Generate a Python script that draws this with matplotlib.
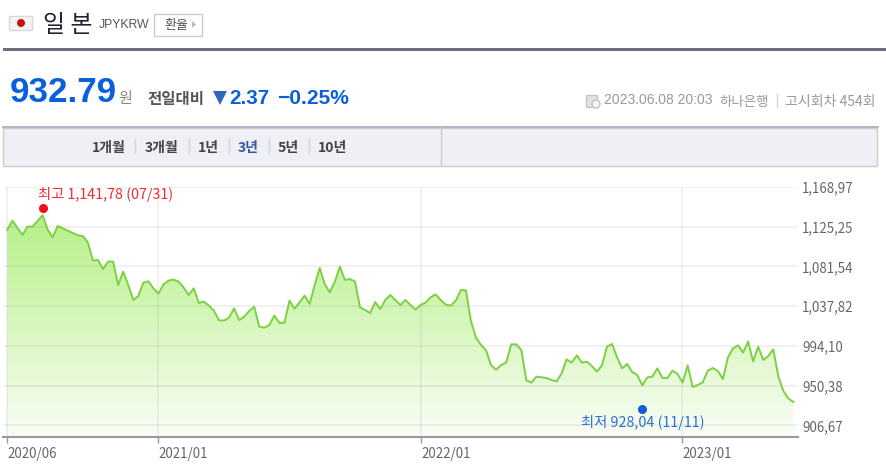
import numpy as np
import matplotlib.pyplot as plt
from matplotlib.colors import LinearSegmentedColormap
from matplotlib.patches import Rectangle, Circle, Polygon

plt.rcParams['font.family'] = ['Noto Sans CJK KR', 'DejaVu Sans']

# weekly JPYKRW rate
rate = [
    1121.7, 1132.0, 1124.3, 1116.2, 1125.4, 1125.4, 1131.6, 1137.8, 1122.4, 1113.6,
    1126.1, 1123.5, 1121.0, 1118.4, 1115.8, 1115.1, 1107.8, 1088.0, 1088.7, 1078.8,
    1086.9, 1086.9, 1061.2, 1075.9, 1061.2, 1044.7, 1049.1, 1063.8, 1065.2, 1057.5,
    1051.7, 1061.9, 1066.0, 1067.1, 1064.9, 1058.3, 1050.2, 1057.5, 1041.4, 1042.9,
    1038.5, 1033.0, 1022.4, 1022.0, 1025.3, 1035.5, 1022.7, 1026.4, 1032.6, 1037.4,
    1015.4, 1014.3, 1017.2, 1027.5, 1019.4, 1019.8, 1044.0, 1035.2, 1042.1, 1049.5,
    1040.3, 1061.2, 1079.9, 1061.9, 1053.1, 1064.9, 1081.4, 1066.7, 1067.8, 1064.9,
    1036.6, 1033.7, 1030.4, 1042.5, 1034.8, 1044.7, 1050.2, 1044.7, 1039.2, 1044.7,
    1039.2, 1034.1, 1039.2, 1041.8, 1047.6, 1050.9, 1044.7, 1039.6, 1038.5, 1044.0,
    1055.7, 1055.3, 1021.6, 1003.3, 995.2, 989.3, 972.8, 968.1, 973.2, 975.8,
    995.9, 995.9, 989.7, 956.3, 953.8, 960.4, 959.6, 958.9, 956.7, 955.2,
    964.0, 979.4, 975.8, 983.8, 975.8, 976.9, 972.1, 965.9, 972.8, 993.4,
    996.3, 981.6, 969.5, 974.3, 965.5, 962.2, 950.8, 959.6, 960.4, 969.5,
    958.9, 958.9, 967.0, 963.3, 953.8, 972.8, 949.0, 951.2, 954.1, 967.0,
    969.9, 966.6, 957.8, 981.6, 991.5, 994.8, 986.8, 998.9, 977.2, 993.4,
    978.7, 983.1, 990.4, 960.4, 944.6, 936.2, 932.5,
]
weeks = np.arange(len(rate))

y_ticks = [906.67, 950.38, 994.10, 1037.82, 1081.54, 1125.25, 1168.97]
y_labels = ['906,67', '950,38', '994,10', '1,037,82', '1,081,54', '1,125,25', '1,168,97']
x_ticks = [0, 30, 82.1, 133.9]
x_labels = ['2020/06', '2021/01', '2022/01', '2023/01']

high_week, high_rate = 7, 1141.78
low_week, low_rate = 126, 928.04

tabs = ['1개월', '3개월', '1년', '3년', '5년', '10년']
tab_x = [92, 145, 198, 238, 278, 318]
tab_seps = [135, 189, 229, 269, 309]

W, H = 886, 472
fig = plt.figure(figsize=(W / 100, H / 100), dpi=100)

# page furniture, drawn in pixel coordinates
page = fig.add_axes([0, 0, 1, 1])
page.set_xlim(0, W)
page.set_ylim(H, 0)
page.axis('off')


def px(size):
    return size * 0.72


# header
page.add_patch(Rectangle((9.5, 15.5), 23, 14, fc='#f4f4f4', ec='#d8d8d8', lw=1))
page.add_patch(Circle((21, 23), 4, fc='#c8100c', ec='none'))
page.text(43, 25, '일 본', fontsize=px(24), color='#222233', va='center', ha='left')
page.text(99, 25, 'JPYKRW', fontsize=px(12.3), color='#555555', va='center', ha='left',
          family='Liberation Sans')
page.add_patch(Rectangle((154.5, 13.5), 48, 22, fc='white', ec='#cccccc', lw=1))
page.text(164, 26, '환율', fontsize=px(13), color='#555555', va='center', ha='left')
page.add_patch(Polygon([(192, 21), (196, 24.5), (192, 28)], fc='#bbbbbb', ec='none'))
page.add_patch(Rectangle((3, 48), W - 3, 3, fc='#6b707c', ec='none'))

# price line
blue = '#0a5fdc'
page.text(10, 93, '932.79', fontsize=px(35), color=blue, weight='bold', va='center', ha='left',
          family='Liberation Sans')
page.text(118, 99, '원', fontsize=px(15), color='#888888', va='center', ha='left')
page.text(147, 99, '전일대비', fontsize=px(15.5), color='#555555', weight='bold', va='center', ha='left')
page.add_patch(Polygon([(213, 91), (227, 91), (220, 105)], fc='#2f68b8', ec='none'))
page.text(229, 98, '2.37', fontsize=px(20.5), color=blue, weight='bold', va='center', ha='left',
          family='Liberation Sans')
page.text(277, 98, '−0.25%', fontsize=px(21), color=blue, weight='bold', va='center', ha='left',
          family='Liberation Sans')

# update info on the right
page.add_patch(Rectangle((586.5, 94.5), 11, 12, fc='#e4e4e4', ec='#c4c4c4', lw=1))
page.add_patch(Circle((596, 104), 4, fc='#f4f4f4', ec='#c4c4c4', lw=1))
page.text(604, 100, '2023.06.08 20:03', fontsize=px(13.9), color='#999999', va='center', ha='left',
          family='Liberation Sans')
page.text(719, 102, '하나은행', fontsize=px(13.4), color='#999999', va='center', ha='left', weight='light')
page.plot([777, 777], [94, 107], color='#d5d5d5', lw=1)
page.text(785, 102, '고시회차 454회', fontsize=px(14), color='#999999', va='center', ha='left', weight='light')

# period tabs
page.add_patch(Rectangle((3.5, 127.5), 874, 38, fc='#eff0f5', ec='#cccccc', lw=1))
page.plot([3, 878], [127, 127], color='#a3a7bb', lw=1.2)
page.plot([441.5, 441.5], [127, 165], color='#cccccc', lw=1)
for label, x in zip(tabs, tab_x):
    color = '#3b55a5' if label == '3년' else '#444444'
    page.text(x, 148, label, fontsize=px(14), color=color, weight='bold', va='center', ha='left')
for x in tab_seps:
    page.plot([x + 0.5, x + 0.5], [139, 153], color='#d5d5d8', lw=1)

# chart, axes placed so the gridlines land on the picture's pixels
ax = fig.add_axes([3 / W, 1 - 437 / H, 795 / W, 250 / H])
ax.patch.set_alpha(0)

green = LinearSegmentedColormap.from_list('fill', ['#fafdf6', '#b6f088'])
grad = np.linspace(0, 1, 256).reshape(-1, 1)
im = ax.imshow(grad, origin='lower', aspect='auto', cmap=green, zorder=1,
               extent=(weeks[0], weeks[-1], 894.0, max(rate)))
area = ax.fill_between(weeks, rate, 894.0, color='none')
im.set_clip_path(area.get_paths()[0], transform=ax.transData)
ax.set_xlim(-0.85, 156.9)
ax.set_ylim(894.0, 1168.97)

ax.plot(weeks, rate, color='#7bd140', lw=1.4, zorder=3)

ax.set_yticks(y_ticks)
ax.set_yticklabels(y_labels, fontsize=px(13.3), color='#666666', ha='left')
ax.yaxis.tick_right()
ax.tick_params(axis='y', length=0, pad=3)
ax.set_xticks(x_ticks)
ax.set_xticklabels(x_labels, fontsize=px(13.3), color='#666666', ha='left')
ax.tick_params(axis='x', length=4, width=1, color='#999999', pad=3)
ax.grid(True, color='#8a8a8a', alpha=0.14, lw=1.2, zorder=2)
ax.set_axisbelow(False)
for line in ax.get_xgridlines() + ax.get_ygridlines():
    line.set_zorder(2)
for name in ['top', 'left', 'right']:
    ax.spines[name].set_visible(False)
ax.spines['bottom'].set_color('#999999')
ax.spines['bottom'].set_linewidth(1.5)

# high and low markers sit a little off their values, as in the picture
ax.plot([high_week], [high_rate + 4.2], 'o', color='#f00f14', ms=6.5, mec='none', zorder=4)
ax.text(high_week - 0.95, high_rate + 18.5, '최고 1,141,78 (07/31)', fontsize=px(14.3), color='#f22a30',
        va='center', ha='left', zorder=4)
ax.plot([low_week], [low_rate - 3.0], 'o', color='#1060d0', ms=6.5, mec='none', zorder=4)
ax.text(low_week - 12.2, low_rate - 18.3, '최저 928,04 (11/11)', fontsize=px(14.3), color='#2a70d0',
        va='center', ha='left', zorder=4)

fig.savefig('out.png', dpi=100)
